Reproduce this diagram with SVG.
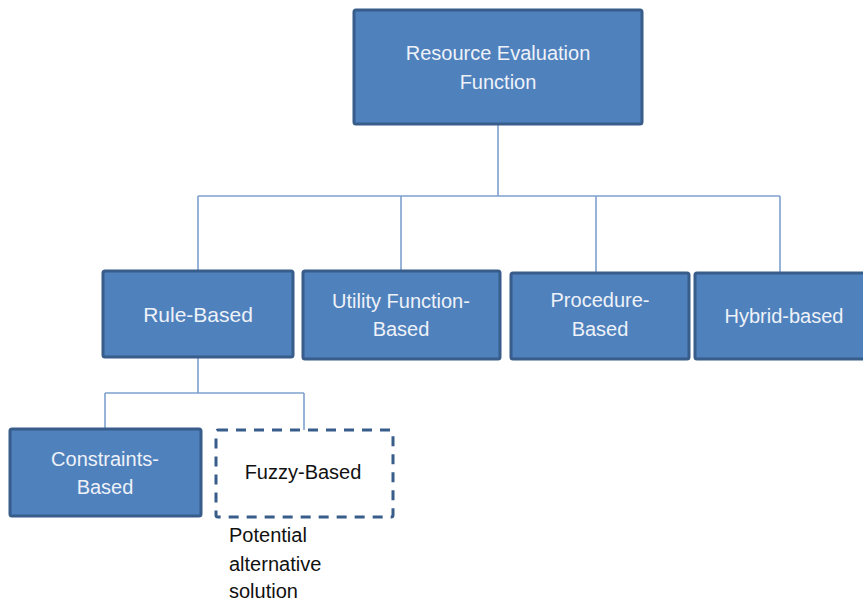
<svg xmlns="http://www.w3.org/2000/svg" width="863" height="601" viewBox="0 0 863 601">
<style>
.box{fill:#4F81BD;stroke:#385D8A;stroke-width:3}
.dash{fill:none;stroke:#385D8A;stroke-width:3;stroke-dasharray:10 8}
.lbl{font-family:"Liberation Sans",Arial,sans-serif;font-size:20px;fill:#EEF2F8;text-anchor:middle}
.dark{font-family:"Liberation Sans",Arial,sans-serif;font-size:20px;fill:#111111}
.conn{fill:none;stroke:#7FA1CF;stroke-width:1.6}
</style>
<rect width="863" height="601" fill="#ffffff"/>
<g id="connectors">
<path class="conn" d="M498 124V196M198 196H780M198 196V271M401 196V271M596 196V273M780 196V273"/>
<path class="conn" d="M198 357V393M105 393H304M105 393V429M304 393V430"/>
</g>
<g id="resource-evaluation">
<rect class="box" x="354" y="10" width="288" height="114" rx="2"/>
<text class="lbl" x="498" y="60">Resource Evaluation</text>
<text class="lbl" x="498" y="89">Function</text>
</g>
<g id="rule-based">
<rect class="box" x="103" y="271" width="190" height="86" rx="2"/>
<text class="lbl" x="198" y="322" style="font-size:21px">Rule-Based</text>
</g>
<g id="utility-function-based">
<rect class="box" x="303" y="271" width="197" height="88" rx="2"/>
<text class="lbl" x="401" y="308">Utility Function-</text>
<text class="lbl" x="401" y="336">Based</text>
</g>
<g id="procedure-based">
<rect class="box" x="511" y="273" width="178" height="86" rx="2"/>
<text class="lbl" x="600" y="307">Procedure-</text>
<text class="lbl" x="600" y="336">Based</text>
</g>
<g id="hybrid-based">
<rect class="box" x="695" y="273" width="180" height="86" rx="2"/>
<text class="lbl" x="784" y="323">Hybrid-based</text>
</g>
<g id="constraints-based">
<rect class="box" x="10" y="429" width="191" height="87" rx="2"/>
<text class="lbl" x="105" y="466">Constraints-</text>
<text class="lbl" x="105" y="494">Based</text>
</g>
<g id="fuzzy-based">
<rect class="dash" x="216" y="430" width="177" height="87" rx="2"/>
<text class="dark" x="303" y="479" text-anchor="middle">Fuzzy-Based</text>
</g>
<g id="potential-note">
<text class="dark" x="229" y="542">Potential</text>
<text class="dark" x="229" y="571">alternative</text>
<text class="dark" x="229" y="598">solution</text>
</g>
</svg>
